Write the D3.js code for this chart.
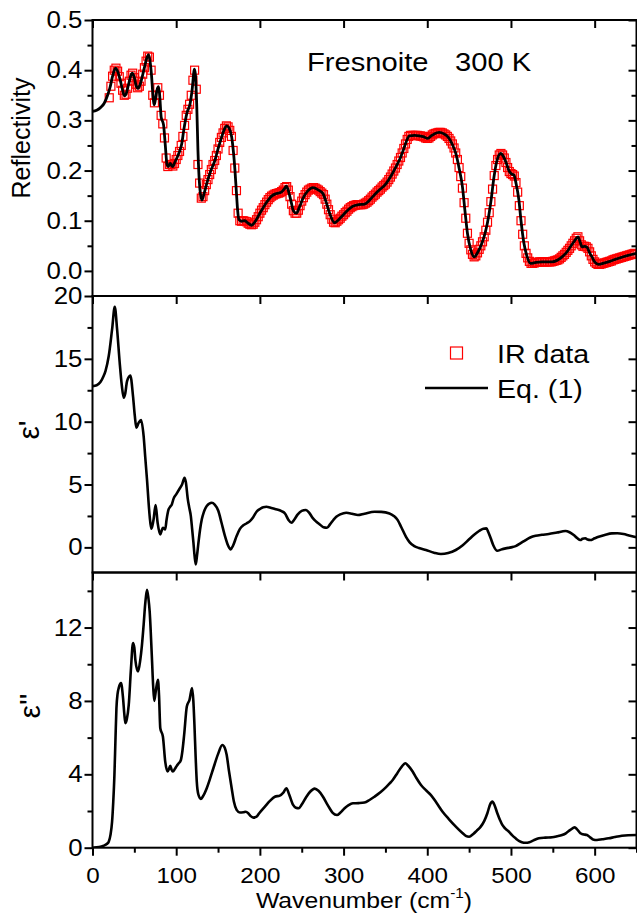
<!DOCTYPE html>
<html><head><meta charset="utf-8">
<script src="https://cdn.jsdelivr.net/npm/d3@7"></script>
<style>
body{margin:0;background:#fff}
svg{display:block}
text{font-family:"Liberation Sans",Arial,sans-serif;fill:#000}
</style>
</head><body>
<svg id="chart" width="637" height="916"></svg>
<script>
// ---------- tick labels ----------
const xTicks = [0, 100, 200, 300, 400, 500, 600];
const xMinorTicks = [50, 150, 250, 350, 450, 550, 650];
const rTicks = [0.0, 0.1, 0.2, 0.3, 0.4, 0.5];
const rMinorTicks = [0.05, 0.15, 0.25, 0.35, 0.45];
const e1Ticks = [0, 5, 10, 15, 20];
const e1MinorTicks = [2.5, 7.5, 12.5, 17.5];
const e2Ticks = [0, 4, 8, 12];
const e2MinorTicks = [2, 6, 10, 14];

// ---------- IR reflectivity data (squares) ----------
const irWn = [20,22,24,26,28,30,32,34,36,38,40,42,44,46,48,50,52,54,56,58,60,62,64,66,68,70,72,74,76,78,80,82,84,86,88,90,92,94,96,98,100,102,104,106,108,110,112,114,116,118,120,122,124,126,128,130,132,134,136,138,140,142,144,146,148,150,152,154,156,158,160,162,164,166,168,170,172,174,176,178,180,
182,184,186,188,190,192,194,196,198,200,202,204,206,208,210,212,214,216,218,220,222,224,226,228,230,232,234,236,238,240,242,244,246,248,250,252,254,256,258,260,262,264,266,268,270,272,274,276,278,280,282,284,286,288,290,292,294,296,298,300,
302,304,306,308,310,312,314,316,318,320,322,324,326,328,330,332,334,336,338,340,342,344,346,348,350,352,354,356,358,360,362,364,366,368,370,372,374,376,378,380,382,384,386,388,390,392,394,396,398,400,
402,404,406,408,410,412,414,416,418,420,422,424,426,428,430,432,434,436,438,440,442,444,446,448,450,452,454,456,458,460,462,464,466,468,470,472,474,476,478,480,482,484,486,488,490,492,494,496,498,500,
502,504,506,508,510,512,514,516,518,520,522,524,526,528,530,532,534,536,538,540,542,544,546,548,550,552,554,556,558,560,562,564,566,568,570,572,574,576,578,580,582,584,586,588,590,592,594,596,598,600,
602,604,606,608,610,612,614,616,618,620,622,624,626,628,630,632,634,636,638,640,642,644,646,648];
const irR = [0.345,0.368,0.388,0.400,0.404,0.398,0.387,0.374,0.360,0.350,0.352,0.364,0.378,0.390,0.394,0.385,0.372,0.365,0.368,0.378,0.392,0.405,0.418,0.428,0.426,0.400,0.350,0.335,0.350,0.365,0.350,0.310,0.293,0.265,0.225,0.208,0.212,0.212,0.209,0.214,0.222,0.230,0.238,0.250,0.268,0.290,0.310,0.322,0.332,0.350,0.380,0.400,0.362,0.212,0.175,0.145,0.148,0.160,0.172,0.182,0.192,0.202,0.212,0.220,0.230,0.243,0.256,0.266,0.275,0.284,0.289,0.287,0.280,0.268,0.240,0.205,0.160,0.115,0.100,0.099,0.100,
0.099,0.098,0.095,0.093,0.092,0.093,0.097,0.102,0.108,0.115,0.121,0.126,0.132,0.137,0.142,0.146,0.149,0.151,0.153,0.154,0.155,0.156,0.158,0.161,0.166,0.168,0.161,0.148,0.133,0.120,0.115,0.115,0.121,0.130,0.139,0.146,0.152,0.157,0.161,0.163,0.165,0.166,0.165,0.163,0.161,0.158,0.155,0.152,0.143,0.133,0.122,0.112,0.103,0.097,0.096,0.099,0.102,0.105,0.109,0.112,
0.116,0.119,0.123,0.126,0.128,0.130,0.131,0.132,0.132,0.132,0.132,0.133,0.135,0.137,0.140,0.143,0.147,0.150,0.153,0.157,0.160,0.163,0.167,0.170,0.173,0.177,0.182,0.187,0.193,0.199,0.205,0.212,0.219,0.226,0.235,0.244,0.253,0.262,0.268,0.270,0.270,0.270,0.270,0.270,0.269,0.269,0.268,0.267,0.265,0.264,
0.265,0.268,0.271,0.273,0.274,0.275,0.276,0.276,0.275,0.273,0.271,0.268,0.264,0.259,0.253,0.245,0.235,0.222,0.206,0.188,0.165,0.136,0.105,0.075,0.055,0.042,0.033,0.028,0.030,0.036,0.043,0.050,0.058,0.068,0.081,0.097,0.116,0.138,0.163,0.190,0.210,0.222,0.231,0.234,0.231,0.225,0.216,0.206,0.198,0.194,
0.192,0.189,0.176,0.157,0.130,0.100,0.073,0.050,0.035,0.026,0.019,0.015,0.015,0.016,0.017,0.017,0.018,0.018,0.018,0.018,0.018,0.018,0.018,0.018,0.019,0.020,0.021,0.022,0.024,0.027,0.030,0.033,0.037,0.041,0.045,0.050,0.055,0.060,0.065,0.068,0.060,0.052,0.049,0.049,0.048,0.045,0.038,0.030,0.023,0.018,
0.015,0.013,0.013,0.014,0.015,0.016,0.017,0.018,0.019,0.020,0.022,0.023,0.024,0.025,0.026,0.027,0.028,0.029,0.030,0.031,0.032,0.033,0.034,0.035];

// ---------- Eq. (1) reflectivity fit (line) ----------
const fitWn = [0,5,10,14,18,21,24,27.4,30,33,36,38,40,43,45.5,47.6,50,52,54.4,57,59,62,65,67,69,70.5,72,73.8,75.5,77,79,80.5,82,84.9,87,89,90.5,92.9,95,96,98,101.6,104,106.7,109,112.7,116.7,119,121.8,123,124.6,126,128,130.6,133,136.5,141,146.4,150,154.4,157,160.3,163,166.3,168.5,170.2,172,173.4,175,178,182,186,190,195,200,205,209.9,214,217.9,222,225.8,229,231.7,234,237.7,240,243.7,247,251.6,257,263.5,270,275.4,279,283.3,289.3,294,299.2,305,311.1,318,325,330,334.9,342,350.8,357,362.7,367,371.4,375,378.6,385,390.5,396,400.4,404,408.3,414.3,420,426.2,430,434.1,438,442,445,448,452,456,460,465.9,469,471.8,476,479.8,483,487.7,491,493.7,497.6,500,503.6,506,509.5,512,515.5,519,523.4,530,537.3,549.2,555,561.1,566,571,576,580.2,582.5,585,588,591,594,596.8,600,604.8,612,618,624.6,632,640,650];
const fitR = [0.318,0.320,0.326,0.334,0.350,0.366,0.388,0.404,0.398,0.381,0.360,0.349,0.352,0.371,0.388,0.394,0.385,0.370,0.364,0.372,0.384,0.405,0.425,0.431,0.415,0.390,0.355,0.331,0.345,0.360,0.367,0.345,0.307,0.291,0.250,0.212,0.208,0.214,0.209,0.208,0.215,0.228,0.238,0.254,0.280,0.314,0.334,0.360,0.402,0.390,0.327,0.240,0.170,0.141,0.152,0.174,0.198,0.221,0.243,0.267,0.280,0.289,0.285,0.267,0.235,0.201,0.155,0.121,0.102,0.099,0.100,0.095,0.091,0.100,0.115,0.129,0.141,0.149,0.153,0.155,0.157,0.163,0.169,0.160,0.135,0.120,0.115,0.126,0.145,0.159,0.166,0.161,0.154,0.138,0.115,0.096,0.102,0.111,0.121,0.129,0.132,0.133,0.139,0.148,0.160,0.174,0.190,0.208,0.222,0.241,0.258,0.269,0.270,0.269,0.267,0.264,0.268,0.273,0.276,0.273,0.264,0.252,0.234,0.205,0.168,0.120,0.075,0.042,0.028,0.036,0.058,0.075,0.095,0.138,0.188,0.218,0.234,0.228,0.218,0.200,0.194,0.191,0.175,0.141,0.100,0.055,0.030,0.015,0.017,0.018,0.018,0.021,0.028,0.036,0.048,0.060,0.068,0.058,0.048,0.049,0.047,0.036,0.028,0.018,0.013,0.016,0.019,0.023,0.027,0.031,0.035];

// ---------- epsilon' (real part) ----------
const eps1Wn = [0,5,9.5,13,15.5,19.4,23.4,26.6,29.4,32.5,35,37.3,39,41.3,45.2,48.4,50.5,52.4,55.2,58,61.1,63,65.1,68.3,70.2,71.5,73,75.4,77.8,81,82.5,84.1,86.9,88.5,90.9,92.5,94.8,97,100,104,107,109.9,111.5,113.9,115.5,117.5,119,120.6,122,123.4,124.8,126.6,128.5,130.6,133,136.5,142.5,146,150.4,154,158.3,162,165.1,168,172.2,176,180.2,184,188.1,192,196,200,204,207.9,212,218,225.8,230,234,237.7,241,245,250,254.8,259,263,267.5,272,276,280.2,284,288,291.3,296,303.2,310,317.1,325,337,345,354.8,360,364.7,369,374.6,379,384.5,390,398.4,408,416.3,425,434.1,442,450,456,461.9,467,470.6,473,475.8,479,483.7,488,493.7,500,505.6,512,517.5,523,529.4,537,545.2,555,565.1,570,575,579,582.9,585.5,588.9,591.5,594.8,600,604.8,612,620.6,627,634.5,641,650];
const eps1 = [12.83,12.9,13.15,13.6,14.03,15.22,17.34,19.14,17.34,14.69,12.9,11.9,12.2,13.23,13.68,12.04,10.5,9.52,9.92,10.13,8.85,7.2,5.41,2.49,1.48,1.7,2.23,3.37,1.96,1.03,1.3,1.56,1.43,2.2,3.02,3.2,3.42,3.9,4.22,4.66,5.0,5.54,5.2,3.82,3.2,2.49,1.5,0.37,-0.7,-1.35,-0.7,0.37,1.4,2.23,2.8,3.29,3.55,3.4,2.89,2.0,0.9,0.15,-0.16,0.15,0.9,1.45,1.75,1.9,2.09,2.4,2.83,3.05,3.2,3.23,3.17,3.05,2.89,2.7,2.2,1.96,2.2,2.6,2.9,2.97,2.75,2.35,2.04,1.8,1.6,1.56,1.85,2.2,2.44,2.62,2.75,2.68,2.57,2.68,2.83,2.82,2.7,2.5,2.17,1.6,0.84,0.4,0.1,-0.05,-0.21,-0.42,-0.53,-0.45,-0.21,0.15,0.64,1.0,1.3,1.48,1.51,1.2,0.72,0.15,-0.27,-0.18,-0.08,0.0,0.1,0.35,0.58,0.78,0.92,1.0,1.06,1.18,1.3,1.2,0.98,0.75,0.58,0.68,0.72,0.62,0.58,0.72,0.84,0.98,1.11,1.12,1.06,0.95,0.80];

// ---------- epsilon'' (imaginary part) ----------
const eps2Wn = [0,8,13.5,17,19.4,21.5,23.4,24.8,26.2,27.5,28.6,30,31.3,34.1,36.5,38,39.3,41,43.3,46,48.4,50,51.2,54.4,57.1,59,61.1,63,65.1,66.8,68.3,71,72.5,73.8,75.8,78.2,79.5,81,84.1,86.9,89.7,91.5,92.9,94.5,96,98.5,100.8,103,105.6,107.5,109.5,112.7,115.9,119,120.5,121.8,123.2,124.6,126.5,129.4,132,136.5,140,144.4,150,155.1,158,160.3,163,166.3,169,172.2,176,180.2,183,186.1,189,192.1,196,199.2,206,212,217.9,223.8,228,231.7,235,239.7,243,246.4,250,255.6,260,265.5,270,275.4,280,283.3,287,292.1,296,301.2,306,311.1,318,325,331,336.9,344,350.8,355,358.7,364,370,373.8,377,382.5,387,392.5,398,404.4,411,418.3,426,434.1,442,446,450,455,459,463.9,468,471.8,475,477.8,480.5,483.7,487,489.7,493,497.6,501,505.6,510,513,517.5,522,527,533.3,541,549.2,555,561.1,566,571,576.2,579,582.9,586,590.9,595,598,602.8,609,616.7,624,632.5,640,650];
const eps2 = [0.0,0.03,0.11,0.2,0.33,0.7,1.42,2.5,3.97,6.0,7.6,8.4,8.7,8.97,8.15,7.3,6.79,7.0,7.78,9.79,11.15,10.9,10.24,9.6,10.24,11.0,12.15,13.3,14.06,13.6,12.88,10.33,8.8,8.0,8.6,9.15,8.3,6.51,6.06,4.69,4.15,4.3,4.47,4.25,4.15,4.3,4.47,4.6,4.78,5.3,6.15,7.69,8.06,8.7,8.0,6.7,5.0,3.6,2.9,2.66,2.8,3.24,3.7,4.33,5.1,5.6,5.45,5.06,4.2,3.24,2.5,2.06,1.92,1.93,1.96,1.88,1.72,1.64,1.69,1.88,2.24,2.55,2.78,2.84,3.0,3.24,2.9,2.33,2.18,2.15,2.35,2.78,3.05,3.22,3.1,2.78,2.4,2.15,1.9,1.78,1.9,2.15,2.32,2.42,2.43,2.46,2.6,2.78,3.02,3.3,3.5,3.69,4.05,4.45,4.6,4.48,4.15,3.8,3.42,3.15,2.87,2.45,1.96,1.55,1.15,0.8,0.65,0.6,0.75,0.92,1.15,1.45,1.88,2.35,2.51,2.3,1.88,1.5,1.24,1.05,0.87,0.7,0.51,0.36,0.3,0.27,0.3,0.4,0.51,0.55,0.57,0.62,0.69,0.8,0.97,1.11,1.0,0.79,0.73,0.69,0.55,0.45,0.42,0.46,0.51,0.58,0.65,0.68,0.69];

// ---------- layout ----------
const L = 92.5, R = 636.5;
const SX = 1.1; // horizontal text stretch of the original figure
const panels = [
  {top: 20,    bottom: 296,   domain: [-0.05, 0.5], major: rTicks,  minor: rMinorTicks,  fmt: d3.format(".1f")},
  {top: 296,   bottom: 572.5, domain: [-2, 20],     major: e1Ticks, minor: e1MinorTicks, fmt: d3.format("d")},
  {top: 572.5, bottom: 847.7, domain: [0, 15],      major: e2Ticks, minor: e2MinorTicks, fmt: d3.format("d")}
];

const svg = d3.select("#chart");
const x = d3.scaleLinear().domain([0, 650]).range([L, R]);
panels.forEach(p => { p.y = d3.scaleLinear().domain(p.domain).range([p.bottom, p.top]); });

const defs = svg.append("defs");
panels.forEach((p, i) => {
  defs.append("clipPath").attr("id", "clip" + i)
    .append("rect").attr("x", L).attr("y", p.top).attr("width", R - L).attr("height", p.bottom - p.top);
});

function styleAxis(g, fontSize) {
  g.select(".domain").remove();
  g.selectAll(".tick line").attr("stroke", "#000").attr("stroke-width", 2);
  if (!fontSize) { g.selectAll(".tick text").remove(); return; }
  g.selectAll(".tick text").each(function () {
    const t = d3.select(this);
    const tx = +t.attr("x") || 0, ty = +t.attr("y") || 0;
    t.attr("x", 0).attr("y", 0)
     .attr("transform", `translate(${tx},${ty}) scale(${SX},1)`)
     .attr("font-size", fontSize)
     .attr("font-family", '"Liberation Sans",Arial,sans-serif')
     .attr("fill", "#000");
  });
}

function hText(px, py, size, str, anchor) {
  return svg.append("text")
    .attr("transform", `translate(${px},${py}) scale(${SX},1)`)
    .attr("text-anchor", anchor || "start")
    .attr("font-size", size).text(str);
}

// ---------- data marks ----------
const lineGen = (y) => d3.line().x(d => x(d[0])).y(d => y(d[1])).curve(d3.curveMonotoneX);

const p0 = panels[0];
const sq = 8;
svg.append("g").attr("clip-path", "url(#clip0)")
  .selectAll("rect").data(d3.zip(irWn, irR)).join("rect")
  .attr("x", d => x(d[0]) - sq / 2).attr("y", d => p0.y(d[1]) - sq / 2)
  .attr("width", sq).attr("height", sq)
  .attr("fill", "none").attr("stroke", "#ff0000").attr("stroke-width", 1.2);

svg.append("path").attr("clip-path", "url(#clip0)")
  .datum(d3.zip(fitWn, fitR)).attr("d", lineGen(p0.y))
  .attr("fill", "none").attr("stroke", "#000").attr("stroke-width", 2.8).attr("stroke-linejoin", "round");

svg.append("path").attr("clip-path", "url(#clip1)")
  .datum(d3.zip(eps1Wn, eps1)).attr("d", lineGen(panels[1].y))
  .attr("fill", "none").attr("stroke", "#000").attr("stroke-width", 2.6).attr("stroke-linejoin", "round");

svg.append("path").attr("clip-path", "url(#clip2)")
  .datum(d3.zip(eps2Wn, eps2)).attr("d", lineGen(panels[2].y))
  .attr("fill", "none").attr("stroke", "#000").attr("stroke-width", 2.6).attr("stroke-linejoin", "round");

// ---------- axes ----------
panels.forEach((p, i) => {
  svg.append("g").attr("transform", `translate(${L},0)`)
    .call(d3.axisLeft(p.y).tickValues(p.major).tickFormat(p.fmt).tickSize(8).tickPadding(2))
    .call(g => styleAxis(g, 23.5));
  svg.append("g").attr("transform", `translate(${L},0)`)
    .call(d3.axisLeft(p.y).tickValues(p.minor).tickSize(5))
    .call(g => styleAxis(g, 0));
  svg.append("g").attr("transform", `translate(${R},0)`)
    .call(d3.axisLeft(p.y).tickValues(p.major).tickSize(8))
    .call(g => styleAxis(g, 0));
  svg.append("g").attr("transform", `translate(${R},0)`)
    .call(d3.axisLeft(p.y).tickValues(p.minor).tickSize(5))
    .call(g => styleAxis(g, 0));
  svg.append("g").attr("transform", `translate(0,${p.top})`)
    .call(d3.axisBottom(x).tickValues(xTicks).tickSize(8))
    .call(g => styleAxis(g, 0));
  svg.append("rect").attr("x", L).attr("y", p.top).attr("width", R - L).attr("height", p.bottom - p.top)
    .attr("fill", "none").attr("stroke", "#000").attr("stroke-width", 2);
});

const pb = panels[2];
svg.append("g").attr("transform", `translate(0,${pb.bottom})`)
  .call(d3.axisBottom(x).tickValues(xTicks).tickFormat(d3.format("d")).tickSize(8).tickPadding(12))
  .call(g => styleAxis(g, 22));
svg.append("g").attr("transform", `translate(0,${pb.bottom})`)
  .call(d3.axisBottom(x).tickValues(xMinorTicks).tickSize(5))
  .call(g => styleAxis(g, 0));

// ---------- titles ----------
const xt = hText(364, 908, 22.5, null, "middle");
xt.append("tspan").text("Wavenumber (cm");
xt.append("tspan").attr("font-size", 14).attr("dy", -10).text("-1");
xt.append("tspan").attr("dy", 10).text(")");

svg.append("text").attr("transform", "translate(30,138) rotate(-90)").attr("text-anchor", "middle")
  .attr("font-size", 25).text("Reflectivity");

svg.append("text").attr("transform", "translate(39,430) rotate(-90)").attr("text-anchor", "middle")
  .attr("font-size", 30).text("ε'");
svg.append("text").attr("transform", "translate(40,706) rotate(-90)").attr("text-anchor", "middle")
  .attr("font-size", 30).text("ε''");

hText(307, 71, 26.5, "Fresnoite");
hText(455, 71, 26.5, "300 K");

// ---------- legend ----------
svg.append("rect").attr("x", 450.5).attr("y", 347).attr("width", 12).attr("height", 12)
  .attr("fill", "none").attr("stroke", "#ff0000").attr("stroke-width", 1.2);
hText(497, 363, 26, "IR data");
svg.append("line").attr("x1", 425).attr("x2", 488).attr("y1", 388).attr("y2", 388)
  .attr("stroke", "#000").attr("stroke-width", 2.6);
hText(497, 398, 26, "Eq. (1)");
</script>
</body></html>
